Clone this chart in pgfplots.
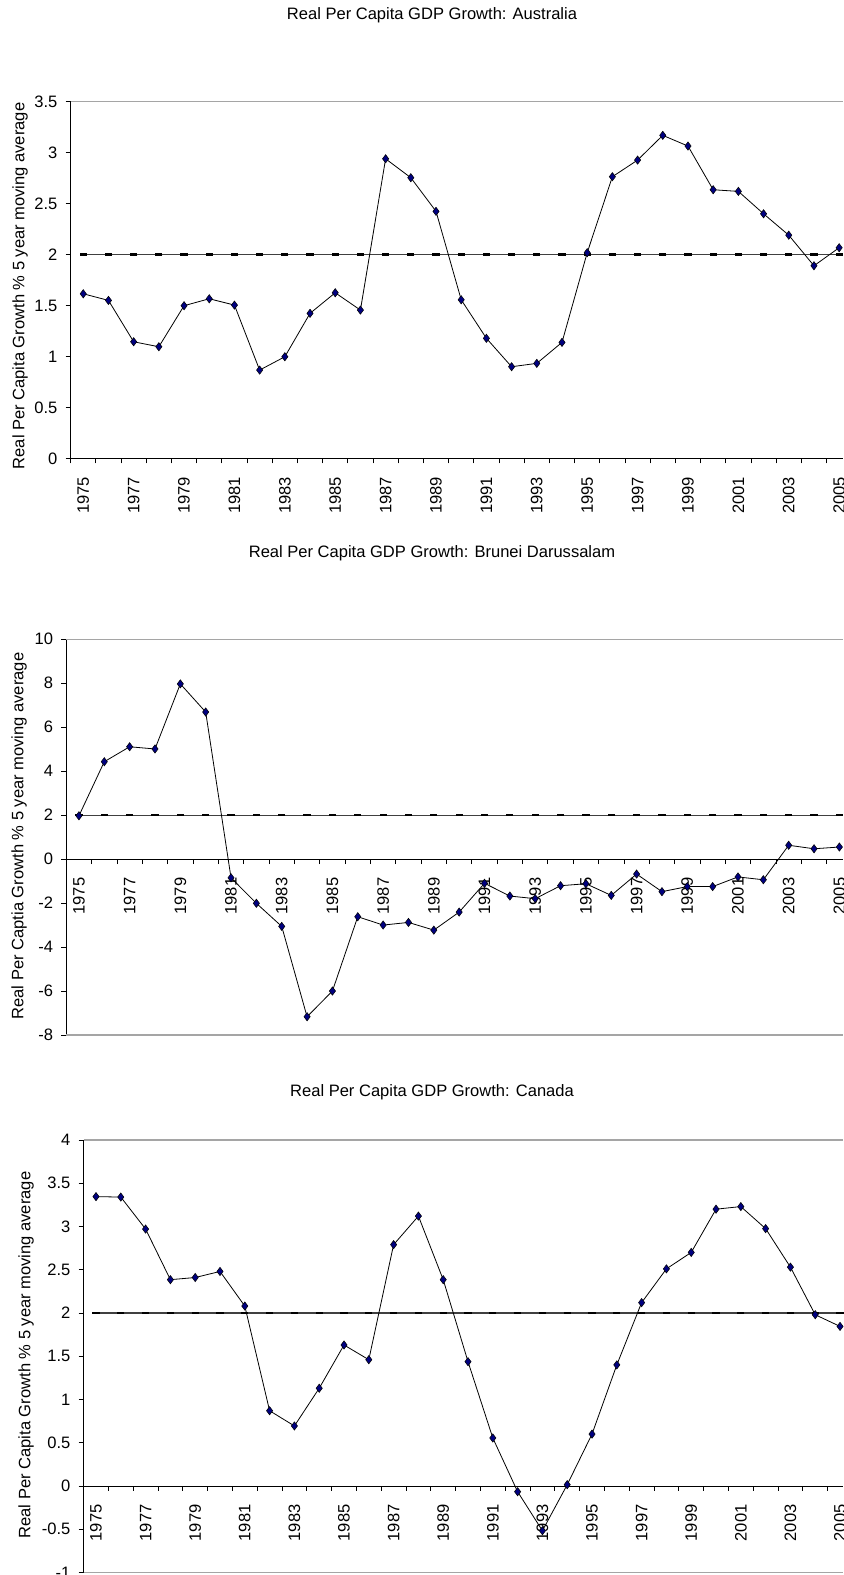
\documentclass[border=0pt]{standalone}
\usepackage{pgfplots}
\pgfplotsset{compat=1.18}
\usepackage{fontspec}
\setmainfont{Liberation Sans}

\definecolor{marknavy}{RGB}{0,0,128}
\definecolor{plotframe}{RGB}{165,165,165}

\pgfplotsset{
  gdp/.style={
    scale only axis, anchor=south west,
    axis x line*=middle, axis y line*=left,
    xmin=1974.5,
    xtick={1975,1977,...,2005},
    minor xtick={1974.5,1975.5,...,2004.5},
    major x tick style={draw=none},
    hide obscured x ticks=false,
    xtick align=outside, ytick align=outside,
    major tick length=3.75pt, minor tick length=3.75pt,
    tick style={black, line width=0.6pt},
    minor x tick style={black, line width=0.6pt},
    axis line style={black, line width=0.6pt},
    xticklabel style={rotate=90, anchor=east, inner sep=0pt},
    xticklabel shift=10pt,
    yticklabel style={anchor=east, inner sep=0pt},
    yticklabel shift=6pt,
    /pgf/number format/1000 sep={},
    /pgf/number format/assume math mode=true,
    tick label style={font=\fontsize{12.4}{14}\selectfont},
    clip=false,
  },
  gdpline/.style={black, line width=0.6pt, mark=diamond*, mark size=3.1pt,
    mark options={fill=marknavy, draw=black, line width=0.4pt}},
  target/.style={black!75, line width=0.9pt, mark=-, mark size=2.7pt,
    mark options={black, line width=2pt}},
}

\begin{document}
\begin{tikzpicture}[every node/.style={font=\fontsize{12.4}{14}\selectfont}]

% Australia
\begin{axis}[gdp, at={(53.0pt,837.5pt)}, width=579.2pt, height=267.45pt,
    xmax=2005.15, ymin=0, ymax=3.5, ytick={0,0.5,...,3.5}]
  \draw[plotframe, line width=0.8pt] (rel axis cs:0,1) -- (rel axis cs:1,1);
  \addplot[target] coordinates {
    (1975,2) (1976,2) (1977,2) (1978,2) (1979,2) (1980,2) (1981,2) (1982,2)
    (1983,2) (1984,2) (1985,2) (1986,2) (1987,2) (1988,2) (1989,2) (1990,2)
    (1991,2) (1992,2) (1993,2) (1994,2) (1995,2) (1996,2) (1997,2) (1998,2)
    (1999,2) (2000,2) (2001,2) (2002,2) (2003,2) (2004,2) (2005,2)};
  \addplot[gdpline] coordinates {
    (1975,1.615) (1976,1.55) (1977,1.144) (1978,1.095) (1979,1.498)
    (1980,1.566) (1981,1.504) (1982,0.866) (1983,0.997) (1984,1.423)
    (1985,1.625) (1986,1.455) (1987,2.94) (1988,2.754) (1989,2.424)
    (1990,1.556) (1991,1.178) (1992,0.899) (1993,0.932) (1994,1.138)
    (1995,2.018) (1996,2.764) (1997,2.927) (1998,3.17) (1999,3.065)
    (2000,2.636) (2001,2.62) (2002,2.40) (2003,2.19) (2004,1.89)
    (2005,2.067)};
\end{axis}

% Brunei Darussalam
\begin{axis}[gdp, at={(49.7pt,405pt)}, width=582.5pt, height=296.8pt,
    xmax=2005.14, ymin=-8, ymax=10, ytick={-8,-6,...,10}]
  \draw[plotframe, line width=0.8pt] (rel axis cs:0,1) -- (rel axis cs:1,1);
  \draw[plotframe, line width=0.8pt] (rel axis cs:0,0) -- (rel axis cs:1,0);
  \addplot[target] coordinates {
    (1975,2) (1976,2) (1977,2) (1978,2) (1979,2) (1980,2) (1981,2) (1982,2)
    (1983,2) (1984,2) (1985,2) (1986,2) (1987,2) (1988,2) (1989,2) (1990,2)
    (1991,2) (1992,2) (1993,2) (1994,2) (1995,2) (1996,2) (1997,2) (1998,2)
    (1999,2) (2000,2) (2001,2) (2002,2) (2003,2) (2004,2) (2005,2)};
  \addplot[gdpline] coordinates {
    (1975,1.97) (1976,4.43) (1977,5.11) (1978,5.01) (1979,7.97)
    (1980,6.69) (1981,-0.85) (1982,-2.01) (1983,-3.06) (1984,-7.17)
    (1985,-6.0) (1986,-2.62) (1987,-3.0) (1988,-2.88) (1989,-3.23)
    (1990,-2.41) (1991,-1.10) (1992,-1.68) (1993,-1.80) (1994,-1.21)
    (1995,-1.12) (1996,-1.65) (1997,-0.68) (1998,-1.48) (1999,-1.25)
    (2000,-1.25) (2001,-0.81) (2002,-0.94) (2003,0.63) (2004,0.47)
    (2005,0.55)};
\end{axis}

% Canada
\begin{axis}[gdp, at={(62.7pt,1.875pt)}, width=569.55pt, height=324.4pt,
    xmax=2005.12, ymin=-1, ymax=4, ytick={-1,-0.5,...,4}]
  \draw[plotframe, line width=0.8pt] (rel axis cs:0,1) -- (rel axis cs:1,1);
  \draw[plotframe, line width=0.8pt] (rel axis cs:0,0) -- (rel axis cs:1,0);
  \addplot[target] coordinates {
    (1975,2) (1976,2) (1977,2) (1978,2) (1979,2) (1980,2) (1981,2) (1982,2)
    (1983,2) (1984,2) (1985,2) (1986,2) (1987,2) (1988,2) (1989,2) (1990,2)
    (1991,2) (1992,2) (1993,2) (1994,2) (1995,2) (1996,2) (1997,2) (1998,2)
    (1999,2) (2000,2) (2001,2) (2002,2) (2003,2) (2004,2) (2005,2)};
  \addplot[gdpline] coordinates {
    (1975,3.345) (1976,3.34) (1977,2.97) (1978,2.385) (1979,2.41)
    (1980,2.48) (1981,2.08) (1982,0.87) (1983,0.694) (1984,1.13)
    (1985,1.63) (1986,1.46) (1987,2.79) (1988,3.12) (1989,2.385)
    (1990,1.437) (1991,0.555) (1992,-0.066) (1993,-0.517) (1994,0.015)
    (1995,0.60) (1996,1.40) (1997,2.12) (1998,2.51) (1999,2.70)
    (2000,3.20) (2001,3.23) (2002,2.975) (2003,2.53) (2004,1.98)
    (2005,1.845)};
\end{axis}

% titles and axis titles
\node at (324pt,1170pt) {Real Per Capita GDP Growth: Australia};
\node at (324pt,766.5pt) {Real Per Capita GDP Growth: Brunei Darussalam};
\node at (324pt,362.25pt) {Real Per Capita GDP Growth: Canada};
\node[rotate=90] at (15pt,966.75pt) {Real Per Capita Growth \% 5 year moving average};
\node[rotate=90] at (14.25pt,554.25pt) {Real Per Captia Growth \% 5 year moving average};
\node[rotate=90] at (19.5pt,165pt) {Real Per Capita Growth \% 5 year moving average};

\pgfresetboundingbox
\path (0,0) rectangle (632.25pt,1181.25pt);
\end{tikzpicture}
\end{document}
